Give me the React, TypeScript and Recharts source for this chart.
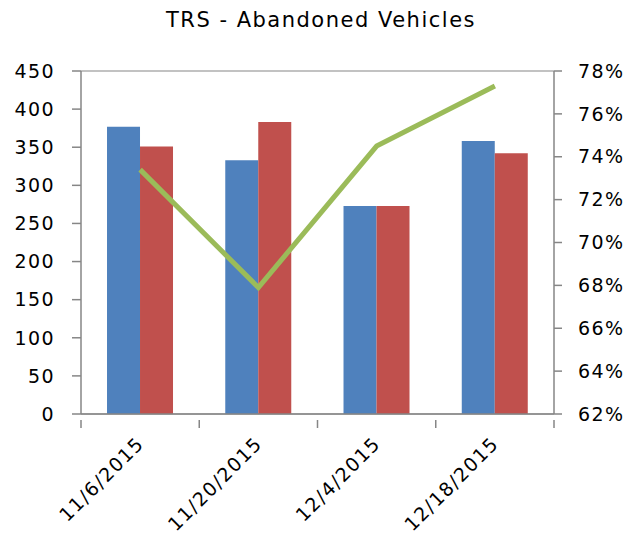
import { ComposedChart, Bar, Line, XAxis, YAxis, CartesianGrid } from 'recharts';

const DATES = ['11/6/2015', '11/20/2015', '12/4/2015', '12/18/2015'];
const SERIES_BLUE = [377, 333, 273, 358];
const SERIES_RED = [351, 383, 273, 342];
const RATE_PCT = [73.4, 67.9, 74.5, 77.3];

const LEFT_TICKS = [0, 50, 100, 150, 200, 250, 300, 350, 400, 450];
const RIGHT_TICKS = [62, 64, 66, 68, 70, 72, 74, 76, 78];

const rows = DATES.map((d, i) => ({
  date: d,
  blue: SERIES_BLUE[i],
  red: SERIES_RED[i],
  rate: RATE_PCT[i],
}));

const FONT = '"DejaVu Sans", sans-serif';
const AXIS_GRAY = '#868686';
const W = 625;
const H = 543;
const PLOT_LEFT = 81;
const PLOT_RIGHT = 554;
const BAND = (PLOT_RIGHT - PLOT_LEFT) / DATES.length;
const TICK_FONT = { fontSize: 19, fill: '#000', fontFamily: FONT, letterSpacing: 1.4 };

// Excel puts the category tick marks between groups, so draw them by hand
function DateTick(props: any) {
  const { x, y, payload, index } = props;
  const left = x - BAND / 2;
  const ax = x + 5;
  const ay = y + 23;
  return (
    <g>
      <line x1={left} y1={y - 2} x2={left} y2={y + 6} stroke={AXIS_GRAY} strokeWidth={1.5} />
      {index === DATES.length - 1 && (
        <line x1={x + BAND / 2} y1={y - 2} x2={x + BAND / 2} y2={y + 6} stroke={AXIS_GRAY} strokeWidth={1.5} />
      )}
      <text
        x={ax}
        y={ay}
        transform={`rotate(-45, ${ax}, ${ay})`}
        textAnchor="end"
        {...TICK_FONT}
      >
        {payload.value}
      </text>
    </g>
  );
}

export default function App() {
  return (
    <div style={{ position: 'absolute', left: 0, top: 0, width: W, height: H, background: '#fff' }}>
      <ComposedChart
        width={W}
        height={H}
        data={rows}
        margin={{ top: 71, right: 0, left: 0, bottom: 0 }}
        barCategoryGap="22%"
        barGap={0}
      >
        <text x={321} y={27} textAnchor="middle" fontSize={21} letterSpacing={1.5} fontFamily={FONT} fill="#000">
          TRS - Abandoned Vehicles
        </text>
        <CartesianGrid vertical={false} stroke={AXIS_GRAY} strokeWidth={1.2} />
        <XAxis
          dataKey="date"
          height={129}
          tickLine={false}
          axisLine={{ stroke: AXIS_GRAY, strokeWidth: 1.5 }}
          tick={<DateTick />}
          interval={0}
        />
        <YAxis
          yAxisId="left"
          width={PLOT_LEFT}
          domain={[0, 450]}
          ticks={LEFT_TICKS}
          interval={0}
          tickSize={9}
          tickMargin={17}
          tickLine={{ stroke: AXIS_GRAY, strokeWidth: 1.5 }}
          axisLine={{ stroke: AXIS_GRAY, strokeWidth: 1.5 }}
          tick={TICK_FONT}
        />
        <YAxis
          yAxisId="right"
          orientation="right"
          width={W - PLOT_RIGHT}
          domain={[62, 78]}
          ticks={RIGHT_TICKS}
          interval={0}
          tickSize={8}
          tickMargin={16}
          tickFormatter={(v: number) => `${v}%`}
          tickLine={{ stroke: AXIS_GRAY, strokeWidth: 1.5 }}
          axisLine={{ stroke: AXIS_GRAY, strokeWidth: 1.5 }}
          tick={{ ...TICK_FONT, textAnchor: 'start' }}
        />
        <Bar yAxisId="left" dataKey="blue" fill="#4F81BD" isAnimationActive={false} />
        <Bar yAxisId="left" dataKey="red" fill="#C0504D" isAnimationActive={false} />
        <Line
          yAxisId="right"
          dataKey="rate"
          stroke="#9BBB59"
          strokeWidth={5}
          dot={false}
          activeDot={false}
          type="linear"
          isAnimationActive={false}
        />
      </ComposedChart>
    </div>
  );
}
